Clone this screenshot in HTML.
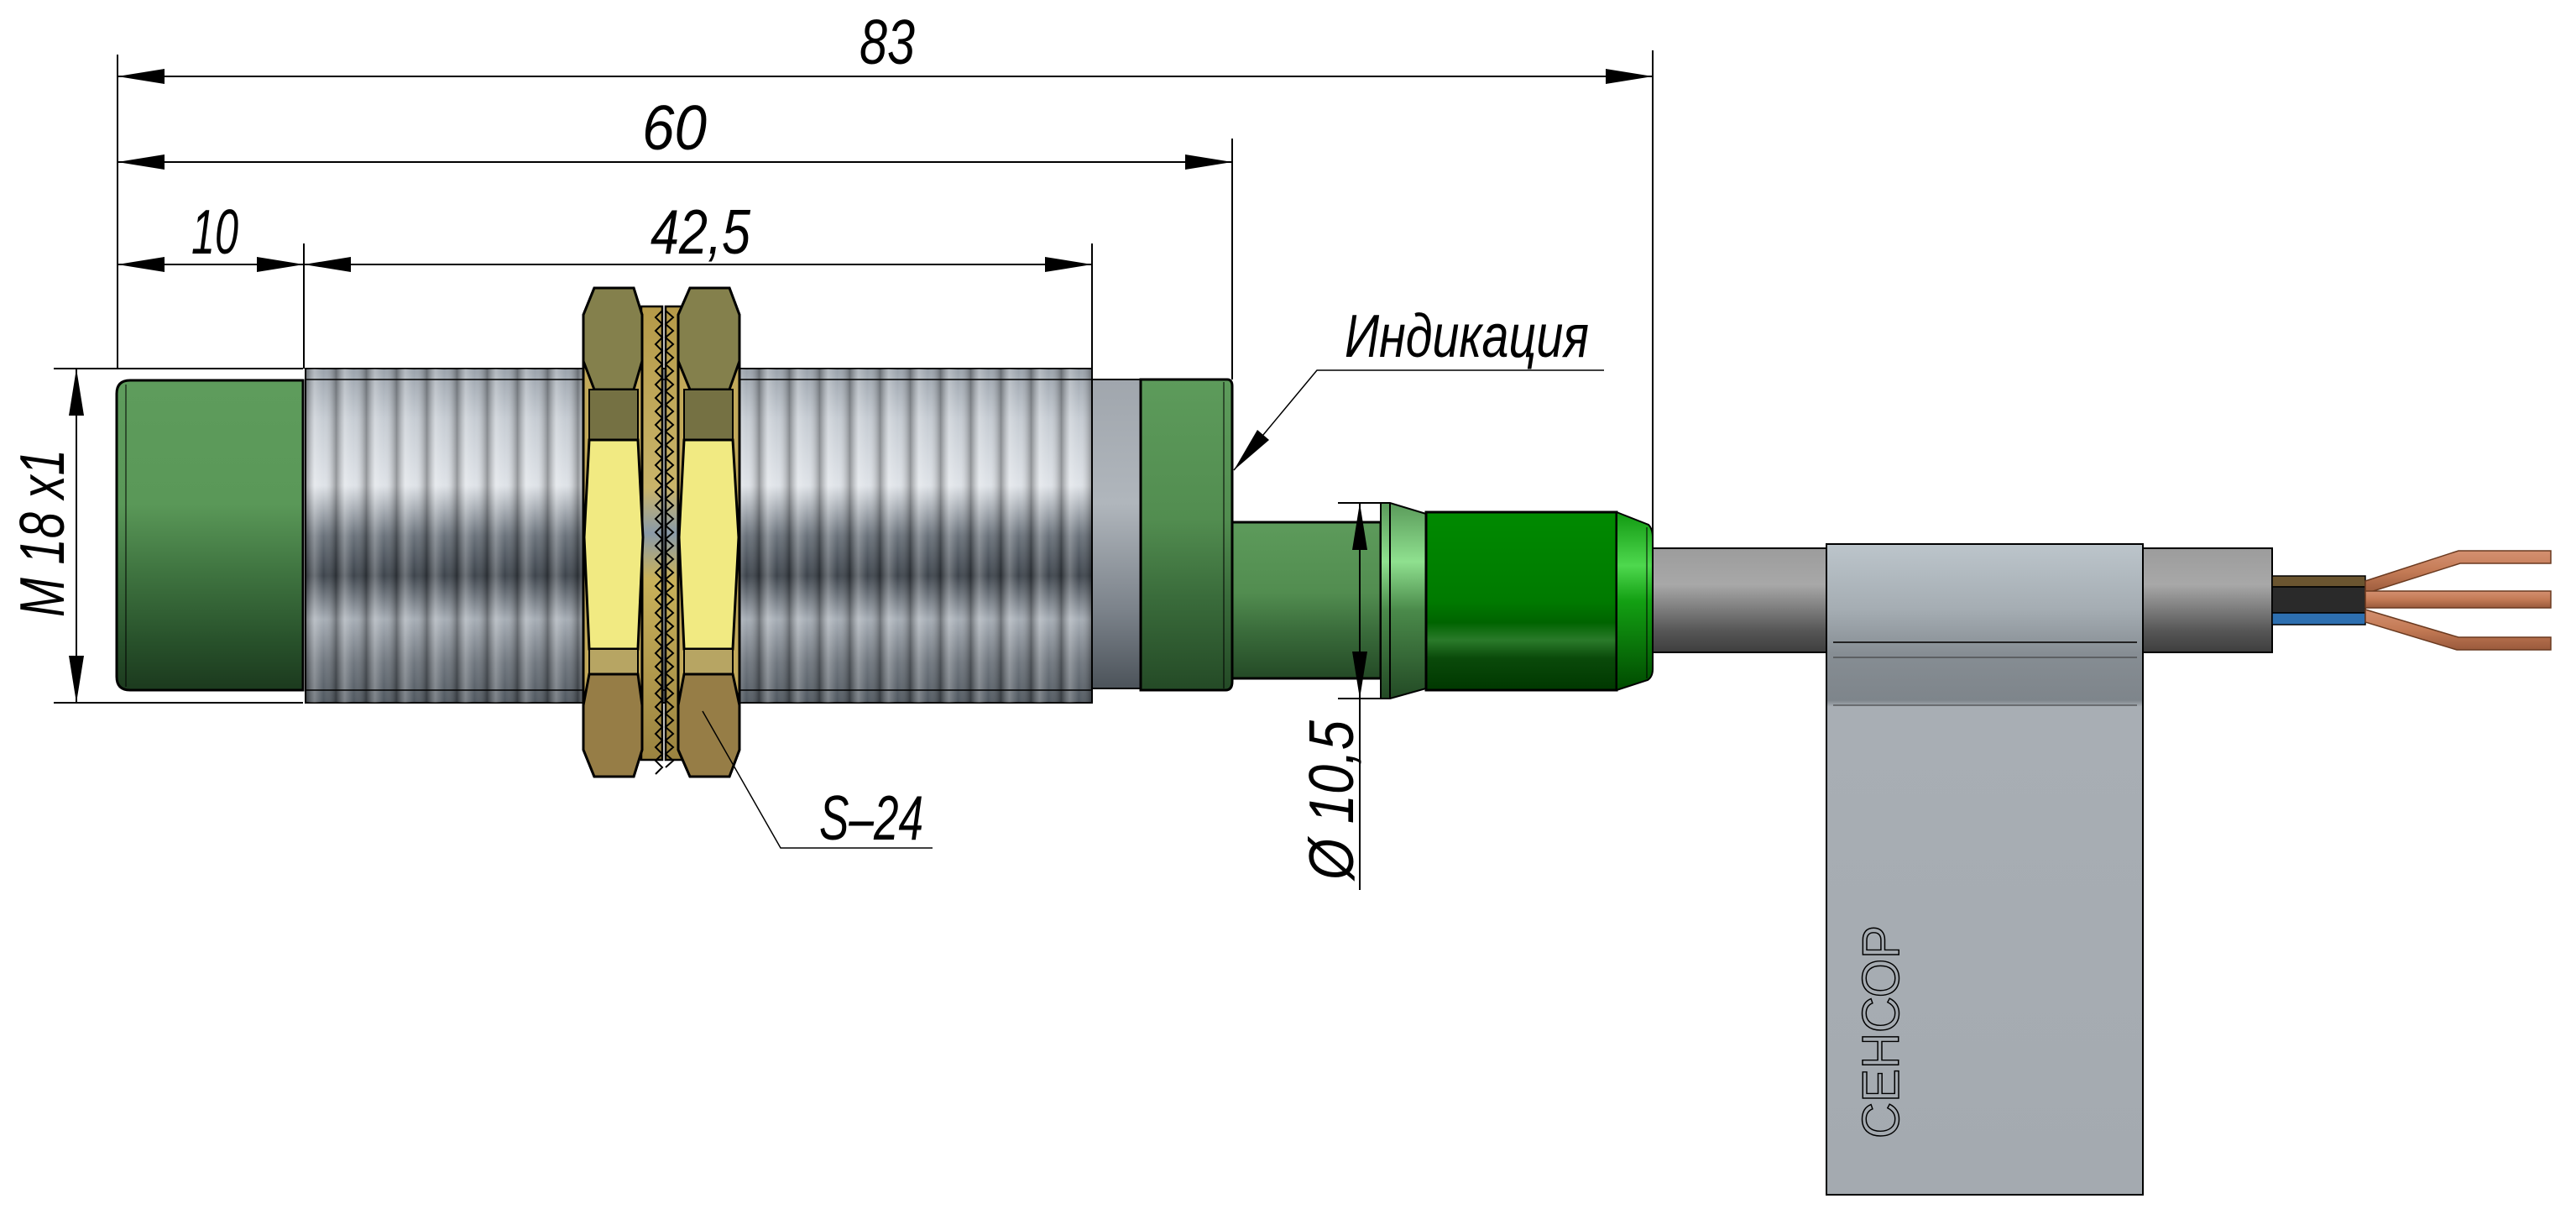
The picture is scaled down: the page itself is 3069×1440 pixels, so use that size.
<!DOCTYPE html>
<html><head><meta charset="utf-8"><style>
html,body{margin:0;padding:0;background:#fff;}
svg{display:block;}
text{font-family:"Liberation Sans","DejaVu Sans",sans-serif;font-style:italic;fill:#000;}
</style></head><body>
<svg width="3069" height="1440" viewBox="0 0 3069 1440" xmlns="http://www.w3.org/2000/svg">
<defs>
<linearGradient id="gFront" x1="0" y1="0" x2="0" y2="1">
<stop offset="0" stop-color="#5e9c5c"/><stop offset="0.4" stop-color="#5a9858"/><stop offset="0.62" stop-color="#3f7440"/><stop offset="0.85" stop-color="#27502a"/><stop offset="1" stop-color="#1c3a1e"/></linearGradient>
<linearGradient id="gRear" x1="0" y1="0" x2="0" y2="1">
<stop offset="0" stop-color="#5d9b5b"/><stop offset="0.45" stop-color="#528d50"/><stop offset="0.7" stop-color="#3a6c3b"/><stop offset="1" stop-color="#244a26"/></linearGradient>
<linearGradient id="gCap" x1="0" y1="0" x2="0" y2="1">
<stop offset="0" stop-color="#008a00"/><stop offset="0.5" stop-color="#007a00"/><stop offset="0.62" stop-color="#006400"/><stop offset="0.72" stop-color="#2a7a2a"/><stop offset="0.82" stop-color="#0a4a0a"/><stop offset="1" stop-color="#003800"/></linearGradient>
<linearGradient id="gCham" x1="0" y1="0" x2="0" y2="1">
<stop offset="0" stop-color="#119911"/><stop offset="0.3" stop-color="#4ed84e"/><stop offset="0.5" stop-color="#13a013"/><stop offset="1" stop-color="#004a00"/></linearGradient>
<linearGradient id="gFlange" x1="0" y1="0" x2="0" y2="1">
<stop offset="0" stop-color="#5a9a5a"/><stop offset="0.3" stop-color="#8fe08f"/><stop offset="0.55" stop-color="#4a8a4a"/><stop offset="1" stop-color="#234a25"/></linearGradient>
<linearGradient id="gThread" x1="0" y1="0" x2="0" y2="1">
<stop offset="0" stop-color="#9aa2ab"/><stop offset="0.15" stop-color="#c6ccd3"/><stop offset="0.35" stop-color="#dfe3e8"/><stop offset="0.5" stop-color="#6a727b"/><stop offset="0.62" stop-color="#3d444c"/><stop offset="0.75" stop-color="#a6adb5"/><stop offset="0.88" stop-color="#6f767e"/><stop offset="1" stop-color="#505860"/></linearGradient>
<linearGradient id="gStripe" x1="0" y1="0" x2="1" y2="0">
<stop offset="0" stop-color="#000" stop-opacity="0.35"/><stop offset="0.3" stop-color="#fff" stop-opacity="0.25"/><stop offset="0.6" stop-color="#fff" stop-opacity="0"/><stop offset="1" stop-color="#000" stop-opacity="0.3"/></linearGradient>
<pattern id="pThread" x="364" y="0" width="36" height="10" patternUnits="userSpaceOnUse">
<rect width="36" height="10" fill="url(#gStripe)"/></pattern>
<linearGradient id="gRing" x1="0" y1="0" x2="0" y2="1">
<stop offset="0" stop-color="#a0a6ad"/><stop offset="0.4" stop-color="#b0b6bc"/><stop offset="0.75" stop-color="#7b828a"/><stop offset="1" stop-color="#4c535a"/></linearGradient>
<linearGradient id="gCable" x1="0" y1="0" x2="0" y2="1">
<stop offset="0" stop-color="#9c9c9c"/><stop offset="0.35" stop-color="#a8a8a8"/><stop offset="0.6" stop-color="#7a7a7a"/><stop offset="0.8" stop-color="#555"/><stop offset="1" stop-color="#3e3e3e"/></linearGradient>
<linearGradient id="gSticker" x1="0" y1="0" x2="0" y2="1">
<stop offset="0" stop-color="#bcc5cb"/><stop offset="0.1" stop-color="#a5adb3"/><stop offset="0.17" stop-color="#868d93"/><stop offset="0.24" stop-color="#7e858b"/><stop offset="0.25" stop-color="#a8aeb4"/><stop offset="1" stop-color="#a4aab0"/></linearGradient>
<linearGradient id="gCopper" x1="0" y1="0" x2="0" y2="1">
<stop offset="0" stop-color="#d49070"/><stop offset="0.5" stop-color="#c37a55"/><stop offset="1" stop-color="#9a5a3c"/></linearGradient>
<linearGradient id="gWasher" x1="0" y1="0" x2="0" y2="1">
<stop offset="0" stop-color="#b59a48"/><stop offset="0.4" stop-color="#c9b46a"/><stop offset="0.5" stop-color="#8a9aa8"/><stop offset="0.6" stop-color="#c9b15a"/><stop offset="1" stop-color="#9a8340"/></linearGradient>
</defs>

<!-- threaded body -->
<rect x="364" y="439" width="937" height="398" fill="url(#gThread)" stroke="#000" stroke-width="2"/>
<rect x="364" y="439" width="937" height="398" fill="url(#pThread)"/>
<line x1="364" y1="452" x2="1301" y2="452" stroke="#000" stroke-width="1.5"/>
<line x1="364" y1="822" x2="1301" y2="822" stroke="#000" stroke-width="1.5"/>
<!-- front green -->
<path d="M155,453 H361 V822 H155 Q139,822 139,806 V469 Q139,453 155,453 Z" fill="url(#gFront)" stroke="#000" stroke-width="3"/>
<line x1="150" y1="458" x2="150" y2="818" stroke="#000" stroke-width="1"/>
<!-- gray ring -->
<rect x="1301" y="452" width="58" height="368" fill="url(#gRing)" stroke="#000" stroke-width="2"/>
<!-- rear green -->
<path d="M1359,452 H1462 Q1468,452 1468,460 V812 Q1468,822 1460,822 H1359 Z" fill="url(#gRear)" stroke="#000" stroke-width="3"/>
<line x1="1458" y1="455" x2="1458" y2="820" stroke="#000" stroke-width="1"/>
<!-- neck -->
<rect x="1468" y="622" width="177" height="186" fill="url(#gRear)" stroke="#000" stroke-width="3"/>
<!-- flange -->
<path d="M1645,599 H1656 L1699,612 V820 L1656,832 H1645 Z" fill="url(#gFlange)" stroke="#000" stroke-width="2"/>
<line x1="1656" y1="599" x2="1656" y2="832" stroke="#000" stroke-width="2"/>
<!-- cable -->
<rect x="1966" y="653" width="741" height="124" fill="url(#gCable)" stroke="#000" stroke-width="2"/>
<!-- cap -->
<rect x="1699" y="610" width="227" height="212" fill="url(#gCap)" stroke="#000" stroke-width="3"/>
<path d="M1926,610 L1964,625 Q1969,630 1969,640 V797 Q1969,806 1963,810 L1926,822 Z" fill="url(#gCham)" stroke="#000" stroke-width="2"/>
<line x1="1962" y1="628" x2="1962" y2="808" stroke="#000" stroke-width="1"/>

<!-- washers -->
<g stroke="#000" stroke-width="2.5">
<rect x="764" y="365" width="25" height="540" fill="url(#gWasher)"/>
<rect x="793" y="365" width="25" height="540" fill="url(#gWasher)"/>
</g>
<!-- nuts -->
<g stroke="#000" stroke-width="3">
<path d="M708,343 H755 L765,375 V893 L755,925 H708 L695,893 V375 Z" fill="#c2a95a"/>
<path d="M822,343 H869 L881,375 V893 L869,925 H822 L808,893 V375 Z" fill="#c2a95a"/>
<path d="M708,343 H755 L765,375 V430 L755,464 H708 L695,430 V375 Z" fill="#84804c"/>
<path d="M822,343 H869 L881,375 V430 L869,464 H822 L808,430 V375 Z" fill="#84804c"/>
<rect x="702" y="464" width="58" height="60" fill="#757143" stroke-width="2"/>
<rect x="815" y="464" width="58" height="60" fill="#757143" stroke-width="2"/>
<path d="M702,524 H760 L766,640 L760,773 H702 L696,640 Z" fill="#f1ea82"/>
<path d="M815,524 H873 L880,640 L873,773 H815 L809,640 Z" fill="#f1ea82"/>
<rect x="702" y="773" width="58" height="30" fill="#b7a563" stroke-width="2"/>
<rect x="815" y="773" width="58" height="30" fill="#b7a563" stroke-width="2"/>
<path d="M702,803 H760 L765,840 V893 L755,925 H708 L695,893 V840 Z" fill="#967d46"/>
<path d="M815,803 H873 L881,840 V893 L869,925 H822 L808,893 V840 Z" fill="#967d46"/>
</g>
<path d="M789,370 l-8,8 l8,8 l-8,8 l8,8 l-8,8 l8,8 l-8,8 l8,8 l-8,8 l8,8 l-8,8 l8,8 l-8,8 l8,8 l-8,8 l8,8 l-8,8 l8,8 l-8,8 l8,8 l-8,8 l8,8 l-8,8 l8,8 l-8,8 l8,8 l-8,8 l8,8 l-8,8 l8,8 l-8,8 l8,8 l-8,8 l8,8 l-8,8 l8,8 l-8,8 l8,8 l-8,8 l8,8 l-8,8 l8,8 l-8,8 l8,8 l-8,8 l8,8 l-8,8 l8,8 l-8,8 l8,8 l-8,8 l8,8 l-8,8 l8,8 l-8,8 l8,8 l-8,8 l8,8 l-8,8 l8,8 l-8,8 l8,8 l-8,8 l8,8 l-8,8 l8,8 l-8,8 l8,8 l-8,8" fill="none" stroke="#000" stroke-width="2"/>
<path d="M793,370 l9,8 l-9,8 l9,8 l-9,8 l9,8 l-9,8 l9,8 l-9,8 l9,8 l-9,8 l9,8 l-9,8 l9,8 l-9,8 l9,8 l-9,8 l9,8 l-9,8 l9,8 l-9,8 l9,8 l-9,8 l9,8 l-9,8 l9,8 l-9,8 l9,8 l-9,8 l9,8 l-9,8 l9,8 l-9,8 l9,8 l-9,8 l9,8 l-9,8 l9,8 l-9,8 l9,8 l-9,8 l9,8 l-9,8 l9,8 l-9,8 l9,8 l-9,8 l9,8 l-9,8 l9,8 l-9,8 l9,8 l-9,8 l9,8 l-9,8 l9,8 l-9,8 l9,8 l-9,8 l9,8 l-9,8 l9,8 l-9,8 l9,8 l-9,8 l9,8 l-9,8 l9,8 l-9,8" fill="none" stroke="#000" stroke-width="2"/>

<!-- sticker -->
<rect x="2176" y="648" width="377" height="775" fill="url(#gSticker)" stroke="#000" stroke-width="2"/>
<line x1="2184" y1="765" x2="2546" y2="765" stroke="#222" stroke-width="2"/>
<line x1="2184" y1="783" x2="2546" y2="783" stroke="#333" stroke-width="1"/>
<line x1="2184" y1="840" x2="2546" y2="840" stroke="#333" stroke-width="1"/>
<text transform="translate(2262,1356) rotate(-90)" font-size="62" textLength="254" lengthAdjust="spacingAndGlyphs" style="font-style:normal;fill:none;stroke:#000;stroke-width:1.5">СЕНСОР</text>

<!-- wires -->
<rect x="2707" y="686" width="111" height="13" fill="#6b5530" stroke="#000" stroke-width="1.5"/>
<rect x="2707" y="699" width="111" height="31" fill="#2a2a2a" stroke="#000" stroke-width="1.5"/>
<rect x="2707" y="730" width="111" height="14" fill="#2d6fb0" stroke="#000" stroke-width="1.5"/>
<path d="M2818,692 L2929,656 H3039 V671 H2931 L2818,707 Z" fill="url(#gCopper)" stroke="#6a3a20" stroke-width="1.5"/>
<rect x="2818" y="704" width="221" height="20" fill="url(#gCopper)" stroke="#6a3a20" stroke-width="1.5"/>
<path d="M2818,726 L2929,759 H3039 V774 H2927 L2818,741 Z" fill="url(#gCopper)" stroke="#6a3a20" stroke-width="1.5"/>

<!-- dimension lines -->
<g stroke="#000" stroke-width="2" fill="none">
<line x1="140" y1="65" x2="140" y2="440"/>
<line x1="1969" y1="60" x2="1969" y2="650"/>
<line x1="1468" y1="165" x2="1468" y2="452"/>
<line x1="1301" y1="290" x2="1301" y2="439"/>
<line x1="362" y1="290" x2="362" y2="439"/>
<line x1="140" y1="91" x2="1969" y2="91"/>
<line x1="140" y1="193" x2="1468" y2="193"/>
<line x1="140" y1="315" x2="1301" y2="315"/>
<line x1="64" y1="439" x2="361" y2="439"/>
<line x1="64" y1="837" x2="361" y2="837"/>
<line x1="91" y1="439" x2="91" y2="837"/>
<line x1="1594" y1="599" x2="1645" y2="599"/>
<line x1="1594" y1="832" x2="1645" y2="832"/>
<line x1="1620" y1="599" x2="1620" y2="1060"/>
<path d="M1470,560 L1569,441 H1911" stroke-width="1.5"/>
<path d="M837,847 L930,1010 H1111" stroke-width="1.5"/>
</g>
<g fill="#000">
<path d="M140,91 l56,-9 v18 z"/><path d="M1969,91 l-56,-9 v18 z"/>
<path d="M140,193 l56,-9 v18 z"/><path d="M1468,193 l-56,-9 v18 z"/>
<path d="M140,315 l56,-9 v18 z"/><path d="M362,315 l-56,-9 v18 z"/>
<path d="M362,315 l56,-9 v18 z"/><path d="M1301,315 l-56,-9 v18 z"/>
<path d="M91,439 l-9,56 h18 z"/><path d="M91,837 l-9,-56 h18 z"/>
<path d="M1620,599 l-9,56 h18 z"/><path d="M1620,832 l-9,-56 h18 z"/>
<path d="M1470,560 L1512,524 L1498,512 Z"/>
</g>

<!-- labels -->
<text x="1024" y="76" font-size="75" textLength="66" lengthAdjust="spacingAndGlyphs">83</text>
<text x="765" y="178" font-size="75" textLength="77" lengthAdjust="spacingAndGlyphs">60</text>
<text x="228" y="302" font-size="75" textLength="56" lengthAdjust="spacingAndGlyphs">10</text>
<text x="775" y="302" font-size="75" textLength="119" lengthAdjust="spacingAndGlyphs">42,5</text>
<text x="1602" y="425" font-size="72" textLength="291" lengthAdjust="spacingAndGlyphs">Индикация</text>
<text x="976" y="1000" font-size="75" textLength="124" lengthAdjust="spacingAndGlyphs">S–24</text>
<text transform="translate(76,735) rotate(-90)" font-size="75" textLength="200" lengthAdjust="spacingAndGlyphs">M 18 x1</text>
<text transform="translate(1612,1048) rotate(-90)" font-size="75" textLength="190" lengthAdjust="spacingAndGlyphs">Ø 10,5</text>
</svg>
</body></html>
